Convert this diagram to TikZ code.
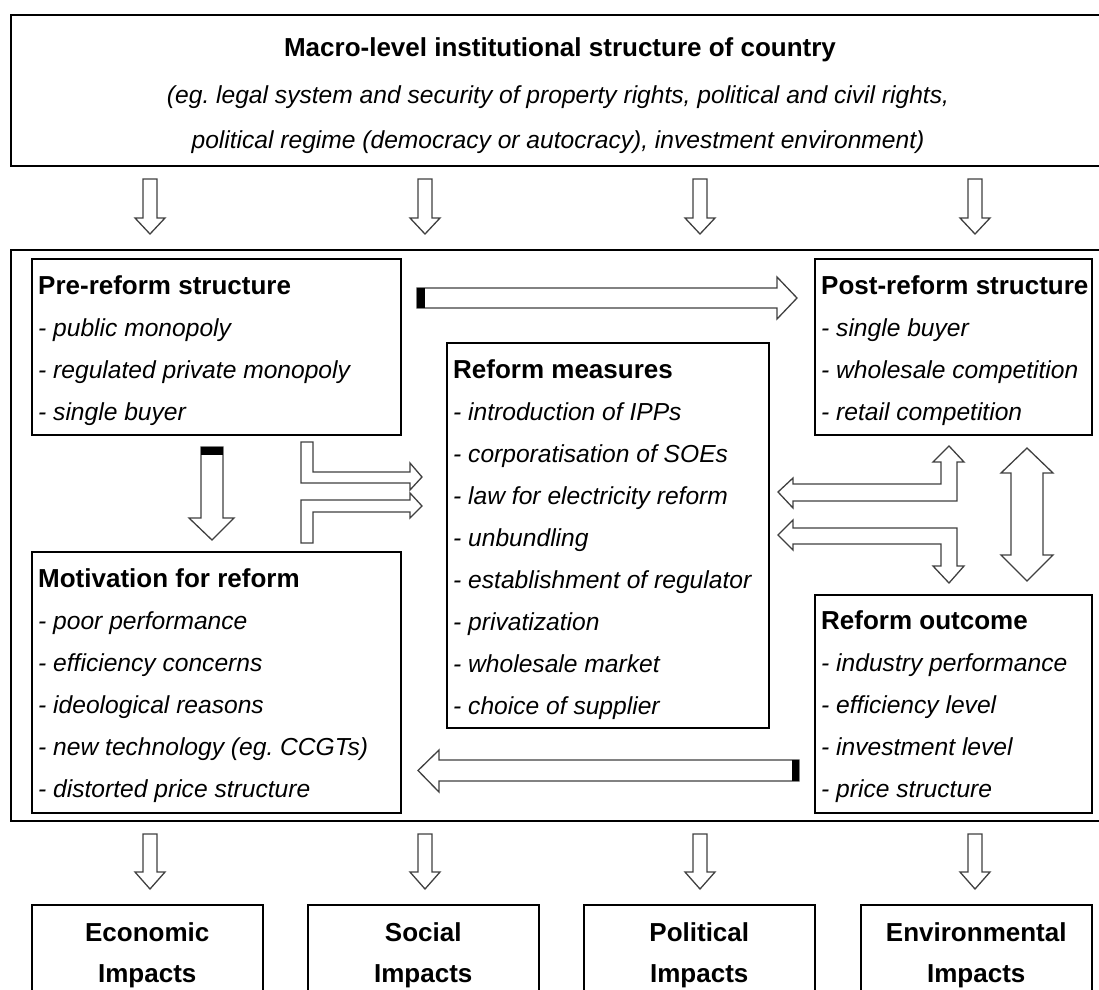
\documentclass[tikz,border=0pt]{standalone}
\usepackage{fontspec}
\setmainfont{Liberation Sans}
\usetikzlibrary{calc}
\frenchspacing
\begin{document}
\begin{tikzpicture}[x=1pt,y=-1pt,
  box/.style={draw=black, line width=1.5pt, fill=white, inner sep=0pt, anchor=north west},
  blockarrow/.style={draw=black!75, line width=1.3pt, fill=white, line join=miter},
  tail/.style={fill=black},
  title/.style={anchor=base west, inner sep=0pt, font=\fontsize{26}{30}\selectfont\bfseries},
  ctitle/.style={anchor=base, inner sep=0pt, font=\fontsize{26}{30}\selectfont\bfseries},
  item/.style={anchor=base west, inner sep=0pt, font=\fontsize{24.6}{30}\selectfont\itshape},
  citem/.style={anchor=base, inner sep=0pt, font=\fontsize{24.6}{30}\selectfont\itshape}]
\useasboundingbox (0,0) rectangle (1099,989);
\clip (0,0) rectangle (1099,989);

% small down arrow: centre x, top, head base, tip
\newcommand\DownBlock[4]{%
  \draw[blockarrow] (#1-7,#2) -- (#1+7,#2) -- (#1+7,#3) -- (#1+15,#3) -- (#1,#4)
    -- (#1-15,#3) -- (#1-7,#3) -- cycle;}

% country-level frame
\node[box, minimum width=1100pt, minimum height=151pt] (macro) at (10,14) {};
\node[ctitle] (macro-t) at (560,56) {Macro-level institutional structure of country};
\node[citem] (macro-1) at (558,103) {(eg. legal system and security of property rights, political and civil rights,};
\node[citem] (macro-2) at (558,148) {political regime (democracy or autocracy), investment environment)};

\foreach \cx in {150,425,700,975} \DownBlock{\cx}{179}{218}{234};

% sector frame
\node[box, minimum width=1110pt, minimum height=571pt] (sector) at (10,249) {};

% pre-reform structure
\node[box, minimum width=369pt, minimum height=176pt] (pre) at (31,258) {};
\node[title] (pre-t) at ($(pre.north west)+(7,36)$) {Pre-reform structure};
\foreach \t [count=\i] in {public monopoly, regulated private monopoly, single buyer}
  \node[item] (pre-\i) at ($(pre.north west)+(7,36+42*\i)$) {- \t};

% post-reform structure
\node[box, minimum width=277pt, minimum height=176pt] (post) at (814,258) {};
\node[title] (post-t) at ($(post.north west)+(7,36)$) {Post-reform structure};
\foreach \t [count=\i] in {single buyer, wholesale competition, retail competition}
  \node[item] (post-\i) at ($(post.north west)+(7,36+42*\i)$) {- \t};

% reform measures
\node[box, minimum width=322pt, minimum height=385pt] (meas) at (446,342) {};
\node[title] (meas-t) at ($(meas.north west)+(7,36)$) {Reform measures};
\foreach \t [count=\i] in {introduction of IPPs, corporatisation of SOEs, law for electricity reform,
    unbundling, establishment of regulator, privatization, wholesale market, choice of supplier}
  \node[item] (meas-\i) at ($(meas.north west)+(7,36+42*\i)$) {- \t};

% motivation for reform
\node[box, minimum width=369pt, minimum height=261pt] (motiv) at (31,551) {};
\node[title] (motiv-t) at ($(motiv.north west)+(7,36)$) {Motivation for reform};
\foreach \t [count=\i] in {poor performance, efficiency concerns, ideological reasons,
    new technology (eg. CCGTs), distorted price structure}
  \node[item] (motiv-\i) at ($(motiv.north west)+(7,36+42*\i)$) {- \t};

% reform outcome
\node[box, minimum width=277pt, minimum height=218pt] (outc) at (814,594) {};
\node[title] (outc-t) at ($(outc.north west)+(7,35)$) {Reform outcome};
\foreach \t [count=\i] in {industry performance, efficiency level, investment level, price structure}
  \node[item] (outc-\i) at ($(outc.north west)+(7,35+42*\i)$) {- \t};

% pre-reform -> post-reform
\draw[blockarrow] (417,288) -- (777,288) -- (777,277) -- (797,298) -- (777,319)
  -- (777,308) -- (417,308) -- cycle;
\fill[tail] (417,288) rectangle (425,308);

% outcome -> motivation
\draw[blockarrow] (799,760) -- (439,760) -- (439,750) -- (418,770.5) -- (439,792)
  -- (439,781) -- (799,781) -- cycle;
\fill[tail] (792,760) rectangle (799,781);

% pre-reform -> motivation
\draw[blockarrow] (201,447) -- (223,447) -- (223,518) -- (234,518) -- (212,540)
  -- (189,518) -- (201,518) -- cycle;
\fill[tail] (201,447) rectangle (223,455);

% structures and motivation feed the measures
\draw[blockarrow] (301,442) -- (313,442) -- (313,472) -- (410,472) -- (410,463)
  -- (422,477) -- (410,490) -- (410,483) -- (301,483) -- cycle;
\draw[blockarrow] (301,543) -- (313,543) -- (313,512) -- (410,512) -- (410,518)
  -- (422,506) -- (410,493) -- (410,500) -- (301,500) -- cycle;

% measures <-> post-reform structure / outcome
\draw[blockarrow] (778,492) -- (793,478) -- (793,484) -- (941,484) -- (941,462)
  -- (933,462) -- (949,446) -- (964,462) -- (957,462) -- (957,501) -- (793,501)
  -- (793,508) -- cycle;
\draw[blockarrow] (778,535) -- (793,520) -- (793,528) -- (957,528) -- (957,566)
  -- (964,566) -- (949,583) -- (933,566) -- (941,566) -- (941,544) -- (793,544)
  -- (793,550) -- cycle;

% post-reform structure <-> outcome
\draw[blockarrow] (1027,448) -- (1053,473) -- (1043,473) -- (1043,555) -- (1053,555)
  -- (1027,581) -- (1001,555) -- (1011,555) -- (1011,473) -- (1001,473) -- cycle;

\foreach \cx in {150,425,700,975} \DownBlock{\cx}{834}{872}{889};

% impact boxes
\foreach \nm/\bx/\lab in {econ/31/Economic, soc/307/Social, pol/583/Political, env/860/Environmental} {
  \node[box, minimum width=231pt, minimum height=110pt] (\nm) at (\bx,904) {};
  \node[ctitle] (\nm-1) at ($(\nm.north)+(0,37)$) {\lab};
  \node[ctitle] (\nm-2) at ($(\nm.north)+(0,78)$) {Impacts};
}
\end{tikzpicture}
\end{document}
